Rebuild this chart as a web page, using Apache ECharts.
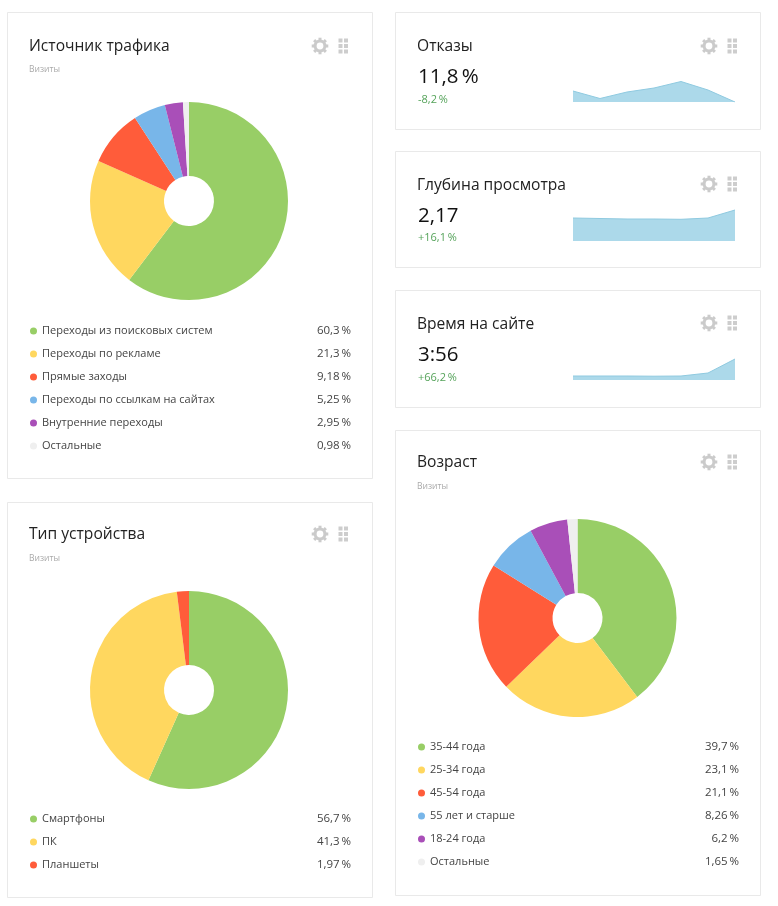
<!DOCTYPE html>
<html>
<head>
<meta charset="utf-8">
<style>
  html, body { margin: 0; padding: 0; background: #fff; }
  #main { width: 778px; height: 906px; }
</style>
<script src="https://cdn.jsdelivr.net/npm/echarts@6/dist/echarts.min.js"></script>
</head>
<body>
<div id="main"></div>
<script>
const FONT = '"Open Sans", "Noto Sans", sans-serif';

// палитра долей
const green = '#98ce66', yellow = '#ffd75f', red = '#ff5c3a', blue = '#78b6e9', purple = '#a94fb8', grey = '#efefef';
const sliceColors = [green, yellow, red, blue, purple, grey];

// Источник трафика
const trafficNames = ['Переходы из поисковых систем', 'Переходы по рекламе', 'Прямые заходы', 'Переходы по ссылкам на сайтах', 'Внутренние переходы', 'Остальные'];
const trafficValues = [60.3, 21.3, 9.18, 5.25, 2.95, 0.98];

// Тип устройства
const deviceNames = ['Смартфоны', 'ПК', 'Планшеты'];
const deviceValues = [56.7, 41.3, 1.97];

// Возраст
const ageNames = ['35-44 года', '25-34 года', '45-54 года', '55 лет и старше', '18-24 года', 'Остальные'];
const ageValues = [39.7, 23.1, 21.1, 8.26, 6.2, 1.65];

// спарклайны (значения оценены по картинке)
const sparkDays = ['1', '2', '3', '4', '5', '6', '7'];
const bounceSpark = [11, 3.5, 10, 14, 20.5, 12, 0];
const depthSpark = [23, 22.5, 22, 22, 21.7, 23, 31];
const timeSpark = [4, 4, 4, 3.8, 4, 7, 21];

function percent(v) {
  return String(v).replace('.', ',') + '\u2009%';
}

function pieSeries(names, values, cx, cy) {
  return {
    type: 'pie',
    silent: true,
    center: [cx, cy],
    radius: [25, 99],
    startAngle: 90,
    clockwise: true,
    label: { show: false },
    labelLine: { show: false },
    itemStyle: { borderWidth: 0 },
    data: names.map((n, i) => ({ name: n, value: values[i], itemStyle: { color: sliceColors[i] } }))
  };
}

function pieLegend(names, values, left, top) {
  return {
    orient: 'vertical',
    left: left,
    top: top,
    padding: 0,
    itemWidth: 7,
    itemHeight: 7,
    itemGap: 7,
    icon: 'circle',
    selectedMode: false,
    data: names,
    formatter: function (name) {
      return '{n|' + name + '}{v|' + percent(values[names.indexOf(name)]) + '}';
    },
    textStyle: {
      rich: {
        n: { width: 250, height: 16, lineHeight: 16, fontSize: 11, fontFamily: FONT, color: '#444' },
        v: { width: 59, height: 16, lineHeight: 16, fontSize: 11.5, fontFamily: FONT, color: '#444', align: 'right' }
      }
    }
  };
}

function text(x, y, str, size, color) {
  return {
    type: 'text', x: x, y: y, silent: true,
    style: { text: str, fontSize: size, fontFamily: FONT, fill: color, verticalAlign: 'middle', align: 'left' }
  };
}

function card(x, y, w, h) {
  return {
    type: 'rect', silent: true, z: -1,
    shape: { x: x + 0.5, y: y + 0.5, width: w, height: h },
    style: { fill: '#fff', stroke: '#e9e9e9', lineWidth: 1 }
  };
}

// шестерёнка и точки в углу карточки
function icons(cx, cy) {
  const out = [];
  const gear = '#cbcbcb', dots = '#cdcdcd';
  out.push({ type: 'ring', silent: true, shape: { cx: cx, cy: cy, r: 6.5, r0: 3.4 }, style: { fill: gear } });
  for (let i = 0; i < 8; i++) {
    out.push({
      type: 'rect', silent: true, x: cx, y: cy, rotation: i * Math.PI / 4,
      shape: { x: -1.5, y: -8.3, width: 3, height: 3 }, style: { fill: gear }
    });
  }
  for (let c = 0; c < 2; c++) {
    for (let r = 0; r < 3; r++) {
      out.push({
        type: 'rect', silent: true,
        shape: { x: cx + 18.5 + c * 5.5, y: cy - 7.5 + r * 5.5, width: 4, height: 4 },
        style: { fill: dots }
      });
    }
  }
  return out;
}

function sparkGrid(base) {
  return { left: 573, width: 162, top: base - 35, height: 35 };
}

function sparkSeries(idx, values) {
  return {
    type: 'line',
    silent: true,
    xAxisIndex: idx,
    yAxisIndex: idx,
    data: values,
    symbol: 'none',
    lineStyle: { color: '#8fcae0', width: 1 },
    areaStyle: { color: '#acd9ea', opacity: 1 }
  };
}

const sparkBases = [102, 241, 380];
const darkText = '#222';
const subText = '#aaa';
const deltaGreen = '#55a35a';

const graphics = [
  card(7, 12, 365, 466),
  card(7, 502, 365, 395),
  card(395, 12, 365, 117),
  card(395, 151, 365, 116),
  card(395, 290, 365, 117),
  card(395, 430, 365, 465),

  text(29, 47, 'Источник трафика', 15.6, darkText),
  text(29, 70, 'Визиты', 8.5, subText),
  text(29, 534.5, 'Тип устройства', 15.6, darkText),
  text(29, 558.5, 'Визиты', 8.5, subText),
  text(417, 462.5, 'Возраст', 15.6, darkText),
  text(417, 486.5, 'Визиты', 8.5, subText),

  text(417, 47, 'Отказы', 15.6, darkText),
  text(418, 77.5, '11,8\u2009%', 20.5, '#111'),
  text(418, 100, '-8,2\u2009%', 11, deltaGreen),

  text(417, 186, 'Глубина просмотра', 15.6, darkText),
  text(418, 216, '2,17', 20.5, '#111'),
  text(418, 238, '+16,1\u2009%', 11, deltaGreen),

  text(417, 325, 'Время на сайте', 15.6, darkText),
  text(418, 355, '3:56', 20.5, '#111'),
  text(418, 378, '+66,2\u2009%', 11, deltaGreen)
].concat(
  icons(320, 46), icons(320, 534),
  icons(709, 46), icons(709, 184), icons(709, 323), icons(709, 462)
);

const chart = echarts.init(document.getElementById('main'), null, { width: 778, height: 906, renderer: 'canvas' });

chart.setOption({
  animation: false,
  backgroundColor: '#fff',
  graphic: { elements: graphics },
  legend: [
    pieLegend(trafficNames, trafficValues, 30, 323),
    pieLegend(deviceNames, deviceValues, 30, 811),
    pieLegend(ageNames, ageValues, 418, 739)
  ],
  grid: sparkBases.map(sparkGrid),
  xAxis: sparkBases.map((b, i) => ({ type: 'category', gridIndex: i, show: false, boundaryGap: false, data: sparkDays })),
  yAxis: sparkBases.map((b, i) => ({ type: 'value', gridIndex: i, show: false, min: 0, max: 35 })),
  series: [
    pieSeries(trafficNames, trafficValues, 189, 201),
    pieSeries(deviceNames, deviceValues, 189, 690),
    pieSeries(ageNames, ageValues, 577.5, 618),
    sparkSeries(0, bounceSpark),
    sparkSeries(1, depthSpark),
    sparkSeries(2, timeSpark)
  ]
});
</script>
</body>
</html>
